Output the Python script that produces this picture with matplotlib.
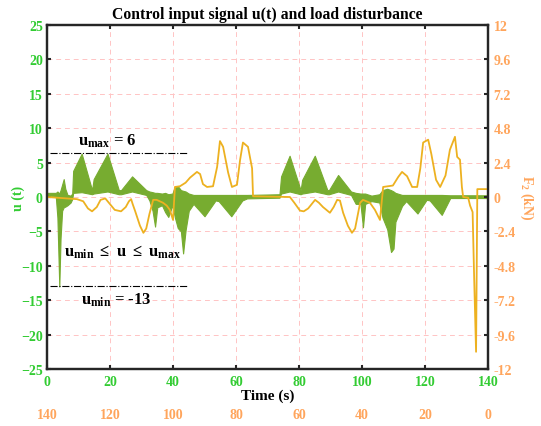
import matplotlib
matplotlib.use('Agg')
import matplotlib.pyplot as plt
import numpy as np

# control input u(t): envelope of the dense oscillation (upper / lower)
u_time = [0, 2.8, 3.3, 3.9, 4.3, 4.8, 5.3, 5.8, 6.5, 7.5, 8.0, 8.3, 11.0, 14.3, 14.8,
          19.2, 22.8, 23.5, 27.0, 31.5, 32.5, 33.5, 34.3, 35.0, 36.5, 37.5, 38.5, 39.8,
          40.6, 41.5, 42.5, 43.2, 44.0, 45.0, 46.5, 50.0, 53.5, 54.5, 58.5, 62.0, 63.5,
          73.8, 74.3, 77.0, 80.5, 81.0, 85.0, 89.0, 89.5, 92.4, 96.5, 98.0, 99.5, 100.3,
          101.0, 103.0, 105.5, 106.5, 108.0, 109.2, 110.0, 110.6, 112.7, 114.0, 117.6,
          120.5, 121.5, 125.3, 128.0, 140.0]
u_upper = [0.6, 0.6, 0.8, 0.5, 1.0, 1.8, 2.6, 1.2, 0.3, 0.2, 0.5, 3.8, 6.3, 1.0, 2.6,
           6.3, 1.0, 1.0, 3.0, 1.0, 0.8, 0.7, 0.6, 0.6, 0.5, 0.6, 0.4, 0.5,
           1.5, 1.6, 1.0, 0.9, 0.8, 0.5, 0.3, 0.3, 0.3, 0.3, 0.3, 0.3, 0.3,
           0.4, 3.0, 6.0, 1.0, 2.5, 6.0, 1.0, 1.0, 3.2, 0.8, 0.6, 0.5, 0.5,
           0.5, 0.2, 0.4, 1.0, 1.2, 1.0, 0.8, 0.6, 0.3, 0.3, 0.3,
           0.3, 0.3, 0.3, 0.25, 0.25]
u_lower = [0.3, 0.0, -3.0, -13.0, -6.0, -2.0, -1.5, -1.4, -1.2, -0.8, -0.3, 0.6, 0.7, 0.4, 0.5,
           0.8, 0.4, 0.4, 0.8, 0.3, -0.5, -2.0, -4.3, -1.5, -1.2, -2.2, -2.9, -1.2,
           -3.0, -4.5, -5.0, -8.2, -4.8, -2.0, -1.0, -2.8, -0.5, -0.6, -2.8, -0.5, -0.2,
           -0.1, 0.5, 0.8, 0.4, 0.5, 0.8, 0.4, 0.4, 0.8, 0.3, -1.0, -1.0, -4.4,
           -1.0, -0.6, -0.8, -3.0, -4.7, -8.0, -7.5, -3.6, -1.3, -0.6, -2.4,
           -0.4, -0.5, -2.6, -0.15, -0.15]

# load disturbance F2 (kN)
f_time = [0, 9.5, 11.5, 13.0, 14.3, 15.8, 17.0, 18.5, 20.0, 21.5, 23.5, 25.0, 26.0, 26.7,
          27.2, 28.0, 29.5, 30.6, 31.5, 32.5, 33.7, 34.8, 36.8, 38.0, 39.0, 40.0, 40.6,
          42.2, 44.0, 45.4, 47.6, 48.6, 49.5, 50.8, 52.7, 54.0, 54.9, 55.9, 57.5, 58.7,
          60.3, 61.3, 62.2, 63.8, 65.1, 65.4, 77.1, 78.5, 80.3, 81.5, 82.9, 85.1, 86.3,
          87.6, 89.8, 91.0, 92.1, 93.0, 94.0, 95.5, 96.8, 97.8, 99.4, 100.3, 102.5, 104.1,
          105.7, 106.7, 109.8, 111.5, 112.7, 114.3, 115.9, 117.5, 118.5, 119.4, 121.0,
          122.0, 123.5, 124.8, 126.5, 127.9, 129.5, 130.2, 131.1, 131.7, 132.1, 133.7,
          134.3, 135.1, 135.6, 136.2, 136.6, 140.0]
f_load = [0.0, -0.15, -0.3, -0.8, -1.0, -0.7, -0.2, -0.1, -0.5, -0.9, -1.0, -0.7, -0.3, -0.15,
          -0.5, -1.0, -2.0, -2.5, -2.2, -1.2, -0.2, -0.2, -0.4, -0.6, -0.9, -1.6, 0.7,
          0.75, 1.0, 1.35, 1.75, 1.6, 0.9, 0.7, 0.75, 2.1, 3.9, 3.5, 1.7, 0.7,
          0.85, 2.6, 3.8, 3.5, 2.0, 0.05, 0.0, -0.4, -0.95, -1.0, -0.8, -0.2, -0.4,
          -0.7, -1.1, -0.7, -0.2, -0.25, -1.1, -2.0, -2.5, -2.2, -0.4, -0.2, -0.4, -0.9,
          -1.6, 0.7, 0.8, 1.4, 1.75, 1.45, 0.7, 0.7, 2.0, 3.8, 4.0,
          3.0, 1.2, 0.7, 1.5, 3.3, 4.2, 2.8, 2.6, 0.7, 0.0, -0.05,
          -0.6, -1.05, -5.7, -10.8, 0.55, 0.55]

u_max_line = 6.4
u_min_line = -13
x_ticks = [0, 20, 40, 60, 80, 100, 120, 140]
u_ticks = [-25, -20, -15, -10, -5, 0, 5, 10, 15, 20, 25]
f_ticks = [-12, -9.6, -7.2, -4.8, -2.4, 0, 2.4, 4.8, 7.2, 9.6, 12]
f_tick_labels = ['-12', '-9.6', '-7.2', '-4.8', '-2.4', '0', '2.4', '4.8', '7.2', '9.6', '12']

GREEN_TXT = '#33cc33'
ORANGE_TXT = '#ffa55c'
GREEN = '#77ac30'
ORANGE = '#edb120'
AXC = '#262626'

plt.rcParams['font.family'] = ['Liberation Serif', 'DejaVu Serif']
plt.rcParams['font.weight'] = 'bold'
plt.rcParams['axes.titleweight'] = 'bold'
plt.rcParams['axes.labelweight'] = 'bold'
plt.rcParams['mathtext.fontset'] = 'custom'
plt.rcParams['mathtext.rm'] = 'Liberation Serif:bold'
plt.rcParams['mathtext.it'] = 'Liberation Serif:bold'
plt.rcParams['mathtext.bf'] = 'Liberation Serif:bold'

fig = plt.figure(figsize=(5.41, 4.27), dpi=100)
ax = fig.add_axes([0.0869, 0.1335, 0.8152, 0.8056])

ax.fill_between(u_time, u_lower, u_upper, color=GREEN, linewidth=0.8, edgecolor=GREEN)
ax.plot([1, 44.5], [u_max_line, u_max_line], color='black', linestyle='-.', linewidth=0.8)
ax.plot([1, 44.5], [u_min_line, u_min_line], color='black', linestyle='-.', linewidth=0.8)

ax.text(19, 8.2, r'$u_{max}$ = 6', fontsize=12, ha='center', va='center')
ax.text(23.8, -7.9, r'$u_{min}$ $\leq$ u $\leq$ $u_{max}$', fontsize=12, ha='center', va='center')
ax.text(22, -14.8, r'$u_{min}$ = -13', fontsize=12, ha='center', va='center')

ax.set_xlim(0, 140)
ax.set_ylim(-25, 25)
ax.set_xticks(x_ticks)
ax.set_yticks(u_ticks)
ax.grid(True, color='#ffc4c4', linestyle=(0, (5, 4)), linewidth=0.7)
ax.set_axisbelow(True)
ax.tick_params(axis='both', direction='in', length=3, width=1.5, color=AXC, labelsize=10)
ax.tick_params(axis='x', top=True, labelcolor=GREEN_TXT, pad=4)
ax.tick_params(axis='y', labelcolor=GREEN_TXT, pad=3)
for sp in ax.spines.values():
    sp.set_linewidth(1.6)
    sp.set_color(AXC)
ax.set_ylabel('u (t)', color=GREEN_TXT, fontsize=10, labelpad=-3)
ax.set_xlabel('Time (s)', color='black', fontsize=11, labelpad=1)
ax.set_title('Control input signal u(t) and load disturbance', fontsize=11.3, pad=5)

ax2 = ax.twinx()
ax2.plot(f_time, f_load, color=ORANGE, linewidth=1.3)
ax2.set_ylim(-12, 12)
ax2.set_yticks(f_ticks)
ax2.set_yticklabels(f_tick_labels)
ax2.tick_params(axis='y', direction='in', length=3, width=1.5, color=AXC, labelcolor=ORANGE_TXT,
                labelsize=10, pad=4)
for sp in ax2.spines.values():
    sp.set_linewidth(1.6)
    sp.set_color(AXC)
ax2.set_ylabel(r'F$_2$ (kN)', color=ORANGE_TXT, fontsize=10, rotation=270, labelpad=14)

# reversed time axis shown below the main one
sec = ax.secondary_xaxis('bottom', functions=(lambda x: 140 - x, lambda x: 140 - x))
sec.set_xticks(x_ticks)
sec.tick_params(axis='x', length=0, pad=28, labelcolor=ORANGE_TXT, labelsize=10)
sec.spines['bottom'].set_visible(False)

fig.savefig('out.png', dpi=100)
